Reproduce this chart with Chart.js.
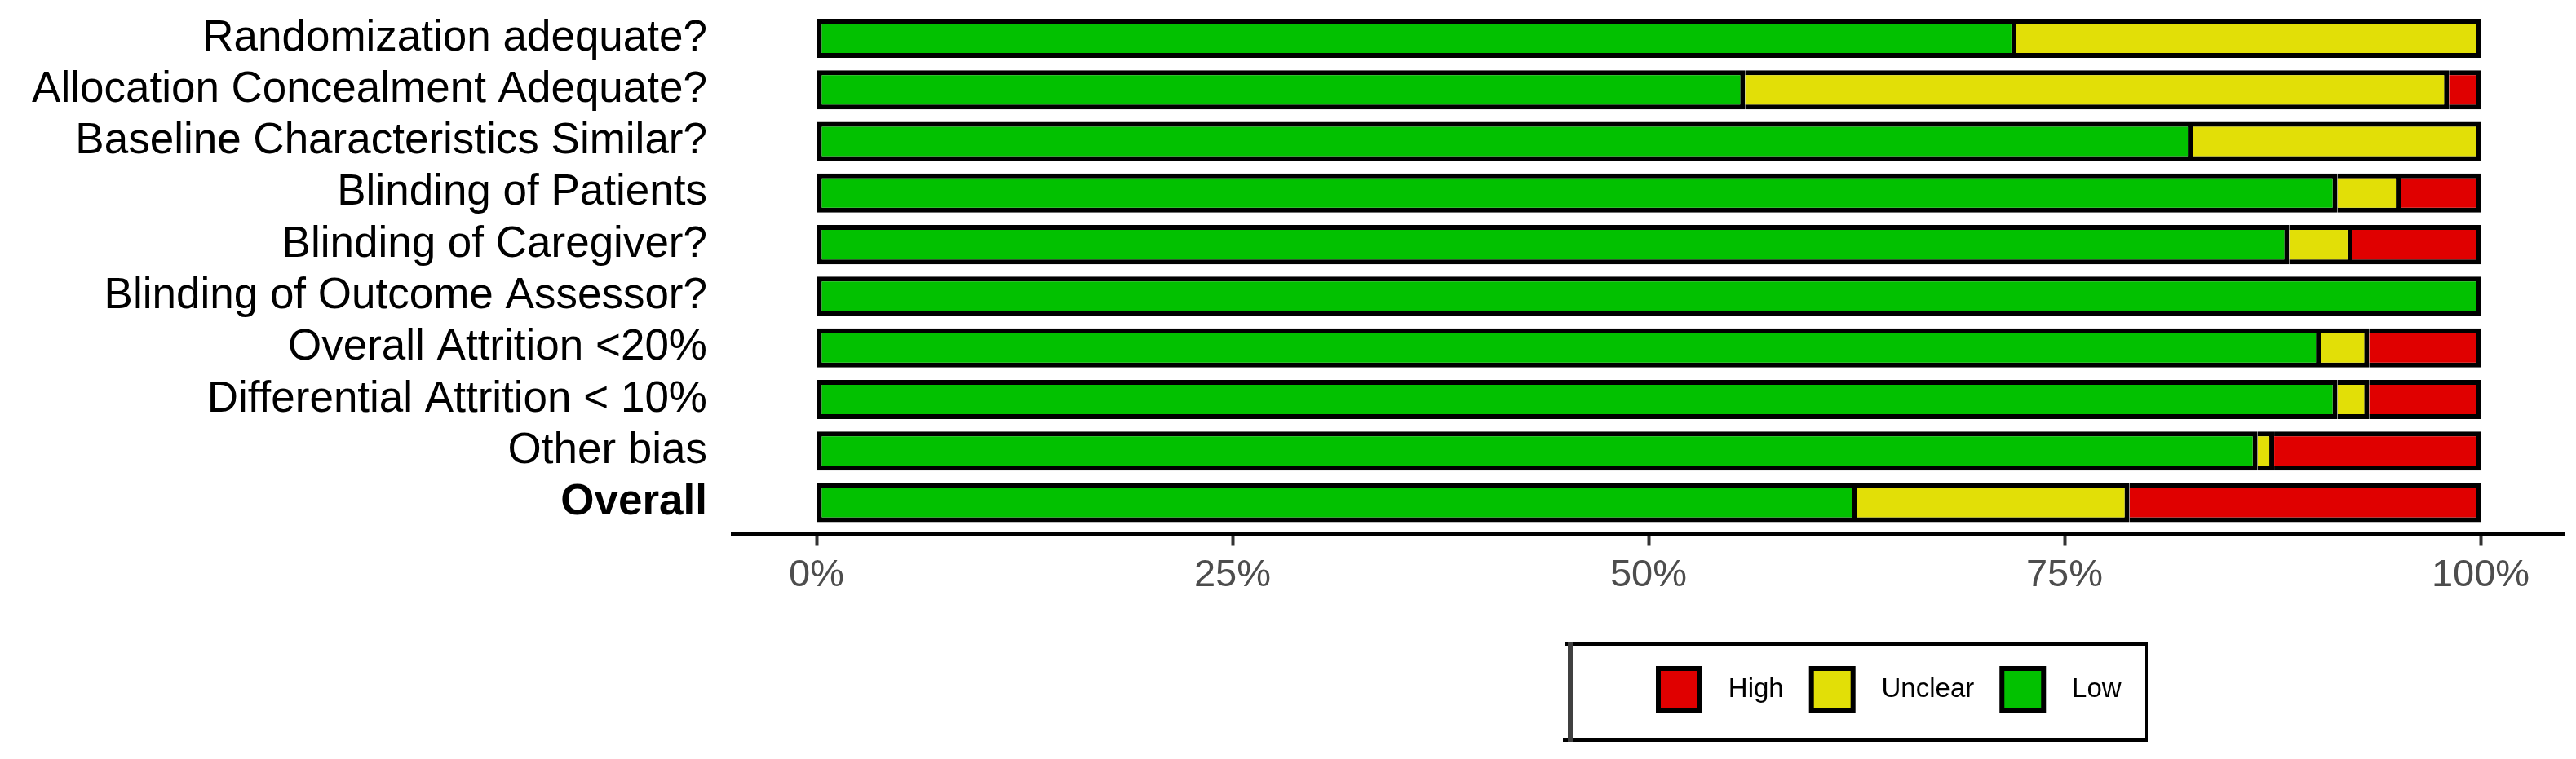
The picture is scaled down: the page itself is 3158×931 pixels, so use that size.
<!DOCTYPE html>
<html>
<head>
<meta charset="utf-8">
<script src="https://cdn.jsdelivr.net/npm/chart.js@4/dist/chart.umd.min.js"></script>
<style>
  html, body { margin: 0; padding: 0; background: #fff; }
</style>
</head>
<body>
<canvas id="rob" width="3158" height="931"></canvas>
<script>
const domains = [
  "Randomization adequate?",
  "Allocation Concealment Adequate?",
  "Baseline Characteristics Similar?",
  "Blinding of Patients",
  "Blinding of Caregiver?",
  "Blinding of Outcome Assessor?",
  "Overall Attrition <20%",
  "Differential Attrition < 10%",
  "Other bias",
  "Overall"
];
const lowRisk     = [72.1, 55.8, 82.7, 91.4, 88.5, 100, 90.4, 91.4, 86.6, 62.5];
const unclearRisk = [27.9, 42.3, 17.3,  3.8,  3.8,   0,  2.9,  1.9,  1.0, 16.4];
const highRisk    = [   0,  1.9,    0,  4.8,  7.7,   0,  6.7,  6.7, 12.4, 21.1];
const xTicks = [0, 25, 50, 75, 100];

const FONT = "'Liberation Sans', Arial, Helvetica, sans-serif";
Chart.defaults.font.family = FONT;

// layout numbers (pixels)
const AXIS_LEFT = 899;     // left end of the x axis line
const X_AXIS_H = 80;
const LEGEND_H = 196.5;
const KEY_X = 2033, KEY_Y = 820, LEG_PAD = 34;

const toPoints = arr => arr.map((v, i) => ({ x: v, y: i }));

// put the legend where the reference has it and draw its frame
const legendPlacer = {
  id: 'legendPlacer',
  beforeLayout(chart) {
    const lg = chart.legend;
    if (lg && !lg._fixedH) {
      const fit = lg.fit.bind(lg);
      lg.fit = function () { fit(); this.height = LEGEND_H; };
      lg._fixedH = true;
    }
  },
  beforeDraw(chart) {
    const lg = chart.legend;
    lg.left = KEY_X - LEG_PAD;
    lg.right = chart.width;
    lg.top = KEY_Y - LEG_PAD;
    lg.bottom = chart.height;
    lg.width = lg.right - lg.left;
    lg.height = lg.bottom - lg.top;
  },
  afterDraw(chart) {
    const c = chart.ctx;
    const L = 1922, R = 2633, T = 787, B = 910;
    c.save();
    c.fillStyle = '#000';
    c.fillRect(L - 4, T, R - L + 4, 5);
    c.fillRect(L - 6, B - 5, R - L + 6, 5);
    c.fillRect(R - 3, T, 3, B - T);
    c.fillStyle = '#404040';
    c.fillRect(L, T, 6, B - T);
    c.restore();
  }
};

const noEdgePadding = s => { s.paddingTop = 0; s.paddingBottom = 0; s.paddingLeft = 0; s.paddingRight = 0; };

new Chart(document.getElementById('rob'), {
  type: 'bar',
  data: {
    datasets: [
      { label: 'Low', data: toPoints(lowRisk), backgroundColor: '#02C100', borderSkipped: false },
      { label: 'Unclear', data: toPoints(unclearRisk), backgroundColor: '#E2DF07', borderSkipped: 'start' },
      { label: 'High', data: toPoints(highRisk), backgroundColor: '#E00000', borderSkipped: 'start' }
    ]
  },
  options: {
    indexAxis: 'y',
    responsive: false,
    devicePixelRatio: 1,
    animation: false,
    layout: { padding: { top: 9, right: 15, left: 0, bottom: 0 } },
    datasets: {
      bar: { borderColor: '#000', borderWidth: 6, categoryPercentage: 1, barPercentage: 0.76 }
    },
    scales: {
      x: {
        type: 'linear', stacked: true, min: -5, max: 105,
        afterBuildTicks: s => { s.ticks = xTicks.map(v => ({ value: v })); },
        afterFit: s => { s.height = X_AXIS_H; noEdgePadding(s); },
        grid: { drawOnChartArea: false, drawTicks: true, tickLength: 15, tickColor: '#333', tickWidth: 4 },
        border: { display: true, color: '#000', width: 6 },
        ticks: { color: '#4d4d4d', padding: 8, maxRotation: 0, autoSkip: false,
                 font: { size: 47 }, callback: v => v + '%' }
      },
      y: {
        type: 'linear', stacked: true, reverse: true, offset: false, min: -0.6, max: 9.6,
        afterBuildTicks: s => { s.ticks = domains.map((_, i) => ({ value: i })); },
        afterFit: s => { s.width = AXIS_LEFT; noEdgePadding(s); },
        grid: { display: false, drawTicks: false },
        border: { display: false },
        ticks: {
          color: '#000', padding: 32, autoSkip: false,
          font: ctx => ({ size: 53, weight: ctx.tick && ctx.tick.value === 9 ? 'bold' : 'normal' }),
          callback: v => domains[v]
        }
      }
    },
    plugins: {
      tooltip: { enabled: false },
      legend: {
        display: true, position: 'bottom', align: 'start', reverse: true,
        labels: {
          boxWidth: 51, boxHeight: 52, padding: LEG_PAD, color: '#000',
          font: { size: 33 },
          generateLabels: chart => Chart.defaults.plugins.legend.labels.generateLabels(chart)
            .map(l => Object.assign(l, { text: '  ' + l.text }))
        }
      }
    }
  },
  plugins: [legendPlacer]
});
</script>
</body>
</html>
